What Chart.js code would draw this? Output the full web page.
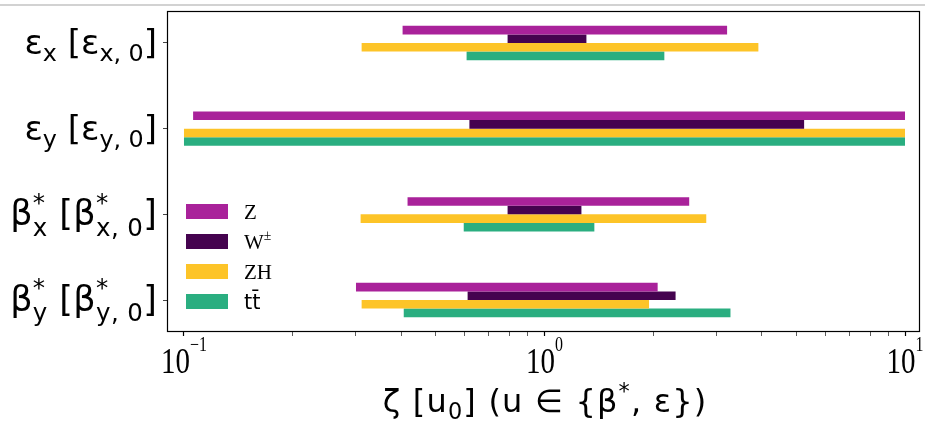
<!DOCTYPE html>
<html>
<head>
<meta charset="utf-8">
<script src="https://cdn.jsdelivr.net/npm/chart.js@4.4.1/dist/chart.umd.min.js"></script>
<style>
  html, body { margin: 0; padding: 0; background: #fff; }
  #wrap { position: relative; width: 925px; height: 430px; }
  #topline { position: absolute; left: 0; top: 4px; width: 925px; height: 2px; background: #d2d2d2; }
  canvas { position: absolute; left: 0; top: 0; }
</style>
</head>
<body>
<div id="wrap">
  <canvas id="chart" width="925" height="430"></canvas>
  <div id="topline"></div>
</div>
<script>
// labels use a tiny markup: ^{..} superscript, _{..} subscript
const categories = ['ε_{x} [ε_{x, 0}]', 'ε_{y} [ε_{y, 0}]', 'β^{*}_{x} [β^{*}_{x, 0}]', 'β^{*}_{y} [β^{*}_{y, 0}]'];
const seriesNames = ['Z', 'W^{±}', 'ZH', 'tt̄'];
const seriesColors = ['#a9229a', '#45034f', '#fdc428', '#2aae80'];
const legendFonts = ["'Liberation Serif'", "'Liberation Serif'", "'Liberation Serif'", "'DejaVu Sans'"];

// low / high end of each range, one entry per category
const zLow = [0.404, 0.106, 0.417, 0.300];
const zHigh = [3.21, 10.0, 2.52, 2.06];
const wLow = [0.790, 0.619, 0.790, 0.612];
const wHigh = [1.307, 5.25, 1.266, 2.31];
const zhLow = [0.311, 0.100, 0.309, 0.311];
const zhHigh = [3.92, 10.0, 2.81, 1.95];
const ttLow = [0.608, 0.100, 0.597, 0.407];
const ttHigh = [2.15, 10.0, 1.375, 3.28];

const xMajorTicks = [0.1, 1, 10];
const xTickLabels = ['10^{−1}', '10^{0}', '10^{1}'];
const xTitle = 'ζ [u_{0}] (u ∈ {β^{*}, ε})';

const lows = [zLow, wLow, zhLow, ttLow];
const highs = [zHigh, wHigh, zhHigh, ttHigh];

const xMinorTicks = [];
[0.1, 1].forEach((d) => { for (let k = 2; k <= 9; k++) xMinorTicks.push(+(k * d).toFixed(2)); });

function parseMarkup(s) {
  const out = [];
  let buf = '';
  for (let i = 0; i < s.length; i++) {
    const c = s[i];
    if ((c === '^' || c === '_') && s[i + 1] === '{') {
      if (buf) { out.push({ t: buf, k: 'n' }); buf = ''; }
      const end = s.indexOf('}', i);
      out.push({ t: s.slice(i + 2, end), k: c === '^' ? 'sup' : 'sub' });
      i = end;
    } else {
      buf += c;
    }
  }
  if (buf) out.push({ t: buf, k: 'n' });
  return out;
}

const plain = (s) => parseMarkup(s).map((p) => p.t).join('');

function layoutRich(ctx, segs, o) {
  const items = [];
  let x = 0;
  ctx.letterSpacing = o.spacing + 'px';
  for (let i = 0; i < segs.length; i++) {
    const s = segs[i];
    if (s.k === 'n') {
      ctx.font = o.size + 'px ' + o.family;
      items.push({ t: s.t, x, dy: 0, font: ctx.font });
      x += ctx.measureText(s.t).width;
      continue;
    }
    ctx.font = (o.size * o.script) + 'px ' + o.family;
    const next = segs[i + 1];
    const stacked = next && next.k !== 'n' && next.k !== s.k;
    const dyOf = (k) => k === 'sup' ? -o.size * o.rise : o.size * o.drop * (stacked ? 1.35 : 1);
    let w = ctx.measureText(s.t).width;
    items.push({ t: s.t, x, dy: dyOf(s.k), font: ctx.font });
    if (stacked) {
      items.push({ t: next.t, x, dy: dyOf(next.k), font: ctx.font });
      w = Math.max(w, ctx.measureText(next.t).width);
      i++;
    }
    x += w;
  }
  return { items, width: x - o.spacing };
}

function drawRich(ctx, text, x, y, opts) {
  const o = Object.assign({ size: 20, family: "'DejaVu Sans'", script: 0.7, rise: 0.42, drop: 0.22, align: 'left', scaleY: 1, spacing: 0 }, opts);
  ctx.save();
  const L = layoutRich(ctx, parseMarkup(text), o);
  const x0 = o.align === 'right' ? x - L.width : o.align === 'center' ? x - L.width / 2 : x;
  ctx.translate(x0, y);
  ctx.scale(1, o.scaleY);
  ctx.textAlign = 'left';
  ctx.textBaseline = 'alphabetic';
  ctx.fillStyle = '#000';
  L.items.forEach((it) => { ctx.font = it.font; ctx.fillText(it.t, it.x, it.dy); });
  ctx.restore();
}

const textPlugin = {
  id: 'mathTexts',
  afterDraw(chart) {
    const ctx = chart.ctx;
    const a = chart.chartArea;
    const xs = chart.scales.x;
    const ys = chart.scales.y;
    ctx.save();
    ctx.strokeStyle = '#000';
    ctx.lineWidth = 1.2;
    ctx.strokeRect(a.left + 0.5, a.top + 0.5, a.right - a.left - 1, a.bottom - a.top - 1);

    categories.forEach((c, i) => {
      const isBeta = c.startsWith('β');
      drawRich(ctx, c, 157, ys.getPixelForValue(i) + 11, { size: isBeta ? 35 : 34, align: 'right', spacing: isBeta ? 0.4 : 0 });
    });

    xMajorTicks.forEach((v, i) => {
      drawRich(ctx, xTickLabels[i], xs.getPixelForValue(v), 373, {
        size: 29, family: "'Liberation Serif'", script: 0.55, rise: 0.62, align: 'center', scaleY: 1.25
      });
    });

    drawRich(ctx, xTitle, (a.left + a.right) / 2 + 1, 412, { size: 32, align: 'center', spacing: 1.2 });

    chart.data.datasets.forEach((ds, s) => {
      const cy = a.top + 200.5 + s * 30;
      ctx.fillStyle = ds.backgroundColor;
      ctx.fillRect(a.left + 19, cy - 7.5, 42, 15);
      drawRich(ctx, seriesNames[s], a.left + 77, cy + 7, { size: 21, family: legendFonts[s], script: 0.65, rise: 0.4 });
    });
    ctx.restore();
  }
};

new Chart(document.getElementById('chart'), {
  type: 'bar',
  data: {
    datasets: seriesNames.map((name, s) => ({
      label: plain(name),
      data: categories.map((c, i) => ({ x: [lows[s][i], highs[s][i]], y: i })),
      backgroundColor: seriesColors[s],
      borderWidth: 0,
      categoryPercentage: 0.4,
      barPercentage: 1.0
    }))
  },
  options: {
    indexAxis: 'y',
    responsive: false,
    animation: false,
    layout: { padding: { left: 0, right: 5, top: 11, bottom: 0 } },
    plugins: { legend: { display: false }, tooltip: { enabled: false } },
    scales: {
      x: {
        type: 'logarithmic',
        min: 0.08972,
        max: 11.005,
        offset: false,
        border: { display: false },
        grid: {
          drawOnChartArea: false,
          drawTicks: true,
          tickLength: 4,
          tickColor: (c) => xMajorTicks.includes(c.tick && c.tick.value) ? '#000' : '#333',
          tickWidth: (c) => xMajorTicks.includes(c.tick && c.tick.value) ? 1.2 : 0.8
        },
        ticks: { callback: () => '', autoSkip: false, maxRotation: 0 },
        afterBuildTicks: (axis) => {
          axis.ticks = xMajorTicks.concat(xMinorTicks).sort((p, q) => p - q).map((v) => ({ value: v, major: xMajorTicks.includes(v) }));
        },
        afterFit: (axis) => { axis.height = 98; }
      },
      y: {
        type: 'linear',
        reverse: true,
        min: -0.3735,
        max: 3.3735,
        offset: false,
        border: { display: false },
        grid: { offset: false, drawOnChartArea: false, drawTicks: true, tickLength: 4, tickColor: '#444' },
        ticks: { callback: () => '', autoSkip: false },
        afterBuildTicks: (axis) => {
          axis.ticks = categories.map((c, i) => ({ value: i }));
        },
        afterFit: (axis) => { axis.width = 167; }
      }
    }
  },
  plugins: [textPlugin]
});
</script>
</body>
</html>
